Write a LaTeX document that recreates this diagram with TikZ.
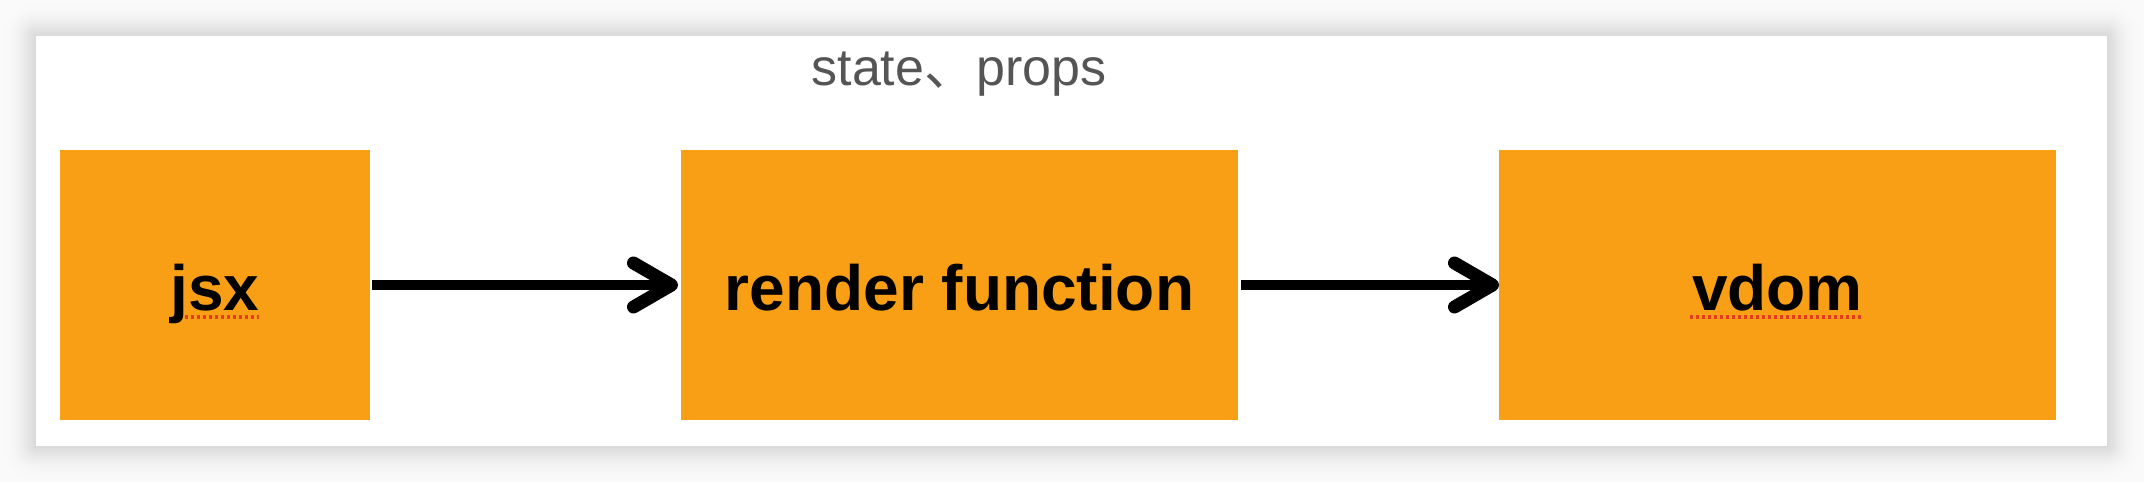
\documentclass[tikz,border=0pt]{standalone}
\usepackage{fontspec}
\setmainfont{Liberation Sans}
\newfontfamily\cjk{Noto Sans CJK SC}
\usetikzlibrary{arrows.meta}
\definecolor{boxorange}{RGB}{249,159,22}
\definecolor{labelgray}{RGB}{85,85,85}
\definecolor{spellred}{RGB}{230,60,30}
\begin{document}
\begin{tikzpicture}[x=0.5pt,y=-0.5pt,
  block/.style={fill=boxorange, draw=none, inner sep=0pt, outer sep=0pt,
    font=\fontsize{32}{36}\selectfont\bfseries, text=black,
    text height=28.8pt, text depth=2.9pt},
  flow/.style={line width=5pt, draw=black,
    -{Straight Barb[length=19pt,width=22pt,line width=6.5pt,round]}},
  spell/.style={draw=spellred, line width=1.6pt, dash pattern=on 1.6pt off 1.4pt},
  lbl/.style={font=\fontsize{26}{30}\selectfont, text=labelgray, inner sep=0pt}]
\useasboundingbox (0,0) rectangle (2144,482);
% background and card shadow
\fill[black!2] (0,0) rectangle (2144,482);
\foreach \d in {36,34,...,0}{
  \pgfmathsetmacro{\p}{2+14*(1-\d/36)*(1-\d/36)}
  \fill[black!\p, rounded corners=\d*0.5pt] (36-\d,36-\d) rectangle (2107+\d,446+\d);
}
\fill[white] (36,36) rectangle (2107,446);
% blocks
\node[block, minimum width=155pt, minimum height=135pt] (jsx) at (215,285) {jsx};
\node[block, minimum width=278.5pt, minimum height=135pt] (render) at (959.5,285) {render function};
\node[block, minimum width=278.5pt, minimum height=135pt] (vdom) at (1777.5,285) {vdom};
% label
\node[lbl, anchor=base] (sp) at (959,85) {state{\cjk 、}props};
% connectors
\draw[flow, shorten <=1pt, shorten >=1.5pt] (jsx) -- (render);
\draw[flow, shorten <=1.5pt] (render) -- (vdom);
% spell-check underlines
\draw[spell] (185,317) -- (259,317);
\draw[spell] (1690,317) -- (1863,317);
\end{tikzpicture}
\end{document}
